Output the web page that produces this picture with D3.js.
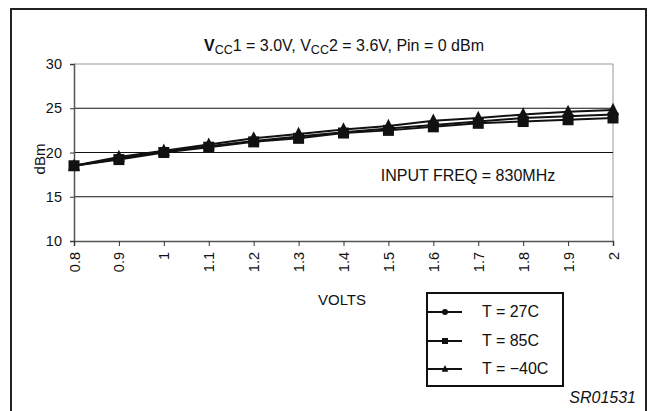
<!DOCTYPE html>
<html>
<head>
<meta charset="utf-8">
<script src="https://cdn.jsdelivr.net/npm/d3@7"></script>
<style>
  body { margin: 0; background: #fff; }
  svg { font-family: "Liberation Sans", Arial, sans-serif; }
</style>
</head>
<body>
<svg id="chart" width="654" height="411"></svg>
<script>
// data
var volts = [0.8, 0.9, 1.0, 1.1, 1.2, 1.3, 1.4, 1.5, 1.6, 1.7, 1.8, 1.9, 2.0];
var t27  = [18.5, 19.3, 20.1, 20.7, 21.3, 21.8, 22.3, 22.7, 23.1, 23.5, 23.9, 24.1, 24.3];
var t85  = [18.5, 19.2, 20.0, 20.6, 21.2, 21.6, 22.2, 22.5, 22.9, 23.3, 23.5, 23.7, 23.9];
var tm40 = [18.5, 19.5, 20.2, 20.9, 21.6, 22.1, 22.6, 23.0, 23.6, 23.9, 24.3, 24.6, 24.8];
var yTicks = [10, 15, 20, 25, 30];
var xTicks = ["0.8", "0.9", "1", "1.1", "1.2", "1.3", "1.4", "1.5", "1.6", "1.7", "1.8", "1.9", "2"];
var seriesNames = ["T = 27C", "T = 85C", "T = \u221240C"];

var series = [
  {name: seriesNames[0], values: t27, marker: "circle"},
  {name: seriesNames[1], values: t85, marker: "square"},
  {name: seriesNames[2], values: tm40, marker: "triangle"}
];

var svg = d3.select("#chart");

// outer frame
svg.append("rect")
  .attr("x", 11).attr("y", 9)
  .attr("width", 635).attr("height", 420)
  .attr("fill", "none").attr("stroke", "#222").attr("stroke-width", 2);

var x = d3.scaleLinear().domain([0.8, 2.0]).range([74, 613]);
var y = d3.scaleLinear().domain([10, 30]).range([241, 64]);

// plot frame (grey) and gridlines
svg.append("line").attr("x1", x(0.8)).attr("x2", x(2)).attr("y1", y(30)).attr("y2", y(30))
  .attr("stroke", "#999").attr("stroke-width", 1);
svg.append("line").attr("x1", x(2)).attr("x2", x(2)).attr("y1", y(30)).attr("y2", y(10))
  .attr("stroke", "#999").attr("stroke-width", 1);

svg.selectAll("line.grid")
  .data([15, 20, 25])
  .enter().append("line")
  .attr("class", "grid")
  .attr("x1", x(0.8)).attr("x2", x(2))
  .attr("y1", function(d){ return y(d); })
  .attr("y2", function(d){ return y(d); })
  .attr("stroke", "#111").attr("stroke-width", 1);

// axes
var yAxis = d3.axisLeft(y).tickValues(yTicks).tickSize(4).tickPadding(8)
  .tickFormat(d3.format("d"));
var gy = svg.append("g").attr("transform", "translate(" + x(0.8) + ",0)").call(yAxis);
gy.select(".domain").attr("stroke", "#555").attr("stroke-width", 1.5);
gy.selectAll(".tick line").attr("stroke", "#333");
gy.selectAll(".tick text").attr("font-size", 14.5).attr("fill", "#111")
  .attr("font-family", "Liberation Sans, Arial, sans-serif");

var xAxis = d3.axisBottom(x).tickValues(volts).tickSize(5)
  .tickFormat(function(d, i){ return xTicks[i]; });
var gx = svg.append("g").attr("transform", "translate(0," + y(10) + ")").call(xAxis);
gx.select(".domain").attr("stroke", "#555").attr("stroke-width", 1.5);
gx.selectAll(".tick line").attr("stroke", "#333");
gx.selectAll(".tick text")
  .attr("font-size", 14.5).attr("fill", "#111")
  .attr("font-family", "Liberation Sans, Arial, sans-serif")
  .attr("transform", "rotate(-90)")
  .attr("text-anchor", "end")
  .attr("x", -11).attr("y", 0).attr("dy", "0.35em");

// lines
var line = d3.line()
  .x(function(d, i){ return x(volts[i]); })
  .y(function(d){ return y(d); });

svg.selectAll("path.series")
  .data(series)
  .enter().append("path")
  .attr("class", "series")
  .attr("d", function(d){ return line(d.values); })
  .attr("fill", "none").attr("stroke", "#111").attr("stroke-width", 2);

function drawMarker(g, type, cx, cy, s) {
  if (type === "circle") {
    g.append("circle").attr("cx", cx).attr("cy", cy).attr("r", s * 0.5).attr("fill", "#111");
  } else if (type === "square") {
    g.append("rect").attr("x", cx - s / 2).attr("y", cy - s / 2)
      .attr("width", s).attr("height", s).attr("fill", "#111");
  } else {
    g.append("path")
      .attr("d", "M" + cx + "," + (cy - s * 0.65) + "L" + (cx + s * 0.55) + "," + (cy + s * 0.45) +
                 "L" + (cx - s * 0.55) + "," + (cy + s * 0.45) + "Z")
      .attr("fill", "#111");
  }
}

var markers = svg.append("g");
series.forEach(function(s){
  s.values.forEach(function(v, i){
    drawMarker(markers, s.marker, x(volts[i]), y(v), s.marker === "circle" ? 8 : 11);
  });
});

// texts
var title = svg.append("text").attr("x", 344).attr("y", 51)
  .attr("text-anchor", "middle").attr("font-size", 16).attr("fill", "#111");
title.append("tspan").attr("font-weight", "bold").text("V");
title.append("tspan").attr("font-size", 12.5).attr("dy", 3).text("CC");
title.append("tspan").attr("dy", -3).text("1 = 3.0V, V");
title.append("tspan").attr("font-size", 12.5).attr("dy", 3).text("CC");
title.append("tspan").attr("dy", -3).text("2 = 3.6V, Pin = 0 dBm");

svg.append("text").attr("transform", "translate(45,159) rotate(-90)")
  .attr("text-anchor", "middle").attr("font-size", 15).attr("fill", "#111").text("dBm");

svg.append("text").attr("x", 468).attr("y", 181)
  .attr("text-anchor", "middle").attr("font-size", 16).attr("fill", "#111")
  .text("INPUT FREQ = 830MHz");

svg.append("text").attr("x", 342).attr("y", 305)
  .attr("text-anchor", "middle").attr("font-size", 15).attr("fill", "#111").text("VOLTS");

// legend
var lg = svg.append("g");
lg.append("rect").attr("x", 427).attr("y", 293).attr("width", 136).attr("height", 93)
  .attr("fill", "none").attr("stroke", "#111").attr("stroke-width", 2);
var rowY = [312, 341, 369];
series.forEach(function(s, i){
  lg.append("line").attr("x1", 427).attr("x2", 462).attr("y1", rowY[i]).attr("y2", rowY[i])
    .attr("stroke", "#111").attr("stroke-width", 2);
  drawMarker(lg, s.marker, 445, rowY[i], 6);
  lg.append("text").attr("x", 482).attr("y", rowY[i] + 5)
    .attr("font-size", 16).attr("fill", "#111").text(s.name);
});

svg.append("text").attr("x", 636).attr("y", 403)
  .attr("text-anchor", "end").attr("font-size", 16).attr("font-style", "italic")
  .attr("fill", "#111").text("SR01531");
</script>
</body>
</html>
